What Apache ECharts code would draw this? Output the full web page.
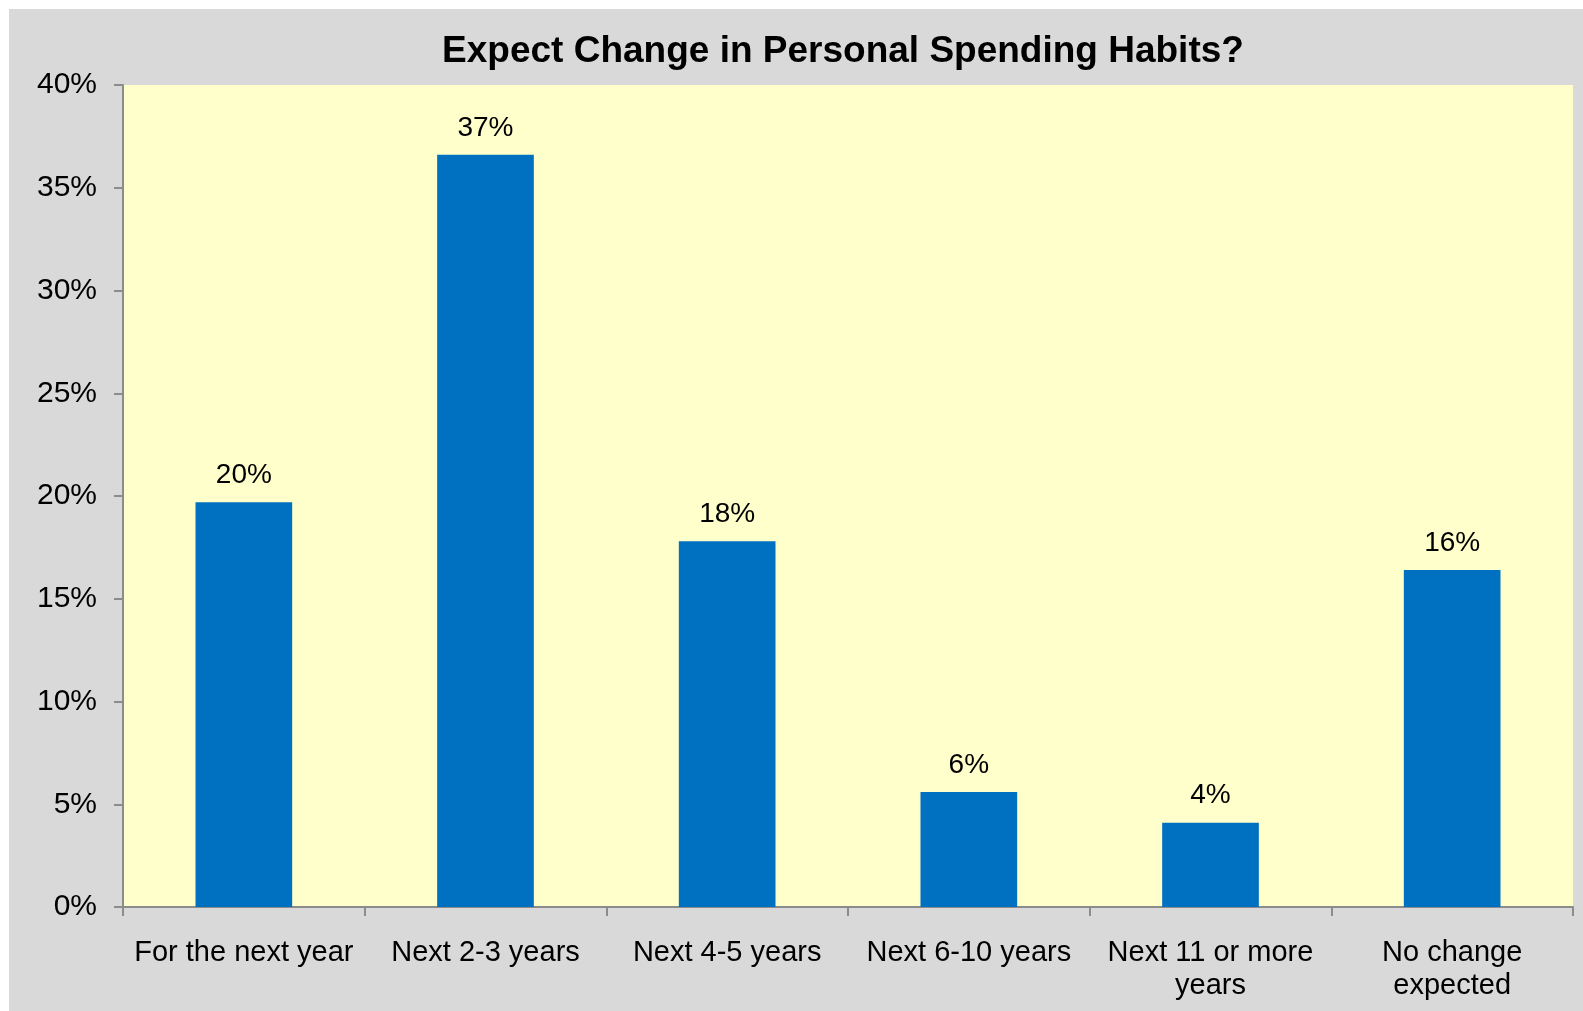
<!DOCTYPE html>
<html>
<head>
<meta charset="utf-8">
<title>Expect Change in Personal Spending Habits?</title>
<script src="https://cdn.jsdelivr.net/npm/echarts@6/dist/echarts.min.js"></script>
<style>
  html, body { margin: 0; padding: 0; background: #ffffff; }
  #chart { width: 1583px; height: 1011px; }
</style>
</head>
<body>
<div id="chart"></div>
<script>
// Survey answers: when respondents expect their personal spending habits to change
const categories = [
  'For the next year',
  'Next 2-3 years',
  'Next 4-5 years',
  'Next 6-10 years',
  'Next 11 or more\nyears',
  'No change\nexpected'
];
// Share of respondents (%)
const shares = [19.7, 36.6, 17.8, 5.6, 4.1, 16.4];
// Value axis range and step (%)
const axisMin = 0;
const axisMax = 40;
const axisStep = 5;

const FONT = '"Liberation Sans", Arial, sans-serif';

const chart = echarts.init(document.getElementById('chart'), null, { renderer: 'canvas' });

chart.setOption({
  backgroundColor: '#ffffff',
  animation: false,
  textStyle: { fontFamily: FONT },
  graphic: [{
    type: 'rect',
    z: -10,
    silent: true,
    shape: { x: 9, y: 9, width: 1574, height: 1002 },
    style: { fill: '#d9d9d9' }
  }],
  title: {
    text: 'Expect Change in Personal Spending Habits?',
    left: 838,
    top: 28,
    textAlign: 'center',
    textStyle: { fontFamily: FONT, fontSize: 37, fontWeight: 'bold', color: '#000000' }
  },
  grid: {
    left: 123,
    top: 85,
    right: 10,
    bottom: 104,
    show: true,
    backgroundColor: '#ffffcc',
    borderWidth: 0,
    containLabel: false
  },
  xAxis: {
    type: 'category',
    data: categories,
    axisLine: { show: true, lineStyle: { color: '#8c8c8c', width: 2 } },
    axisTick: { show: true, alignWithLabel: false, length: 9, lineStyle: { color: '#8c8c8c', width: 2 } },
    axisLabel: {
      interval: 0,
      margin: 29,
      fontFamily: FONT,
      fontSize: 29,
      lineHeight: 33,
      color: '#000000'
    },
    splitLine: { show: false }
  },
  yAxis: {
    type: 'value',
    min: axisMin,
    max: axisMax,
    interval: axisStep,
    axisLine: { show: true, lineStyle: { color: '#8c8c8c', width: 2 } },
    axisTick: { show: true, length: 9, lineStyle: { color: '#8c8c8c', width: 2 } },
    axisLabel: {
      margin: 26,
      fontFamily: FONT,
      fontSize: 30,
      color: '#000000',
      formatter: '{value}%'
    },
    splitLine: { show: false }
  },
  series: [{
    type: 'bar',
    data: shares,
    barCategoryGap: '60%',
    itemStyle: { color: '#0070c0' },
    label: {
      show: true,
      position: 'top',
      distance: 13,
      fontFamily: FONT,
      fontSize: 28,
      color: '#000000',
      formatter: p => Math.round(p.value) + '%'
    }
  }]
});
</script>
</body>
</html>
